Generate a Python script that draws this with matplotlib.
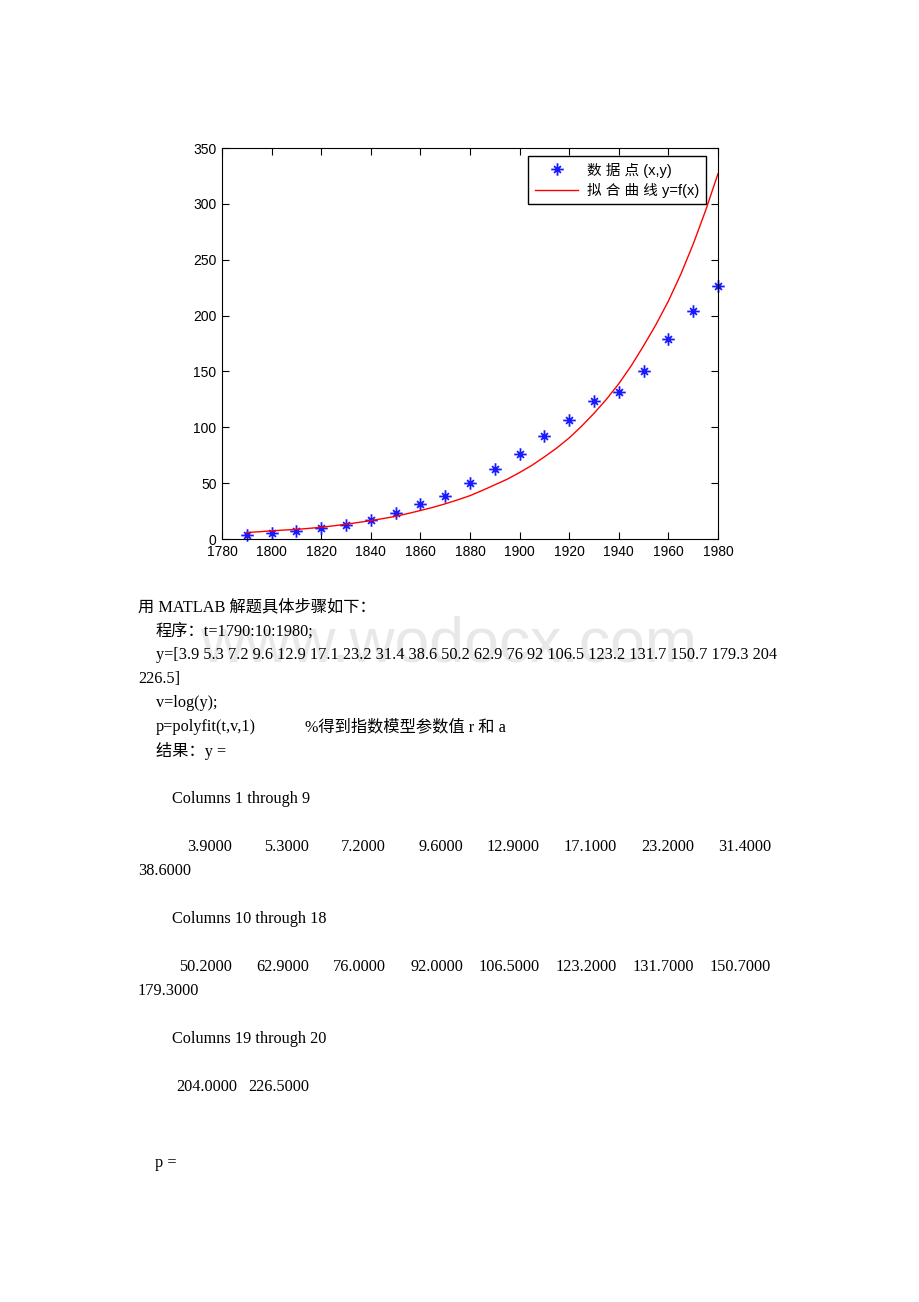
import numpy as np
import matplotlib
matplotlib.use('Agg')
import matplotlib.pyplot as plt
from matplotlib.path import Path

plt.rcParams['font.family'] = ['Liberation Sans', 'Noto Sans CJK SC']

# data points
years = [1790, 1800, 1810, 1820, 1830, 1840, 1850, 1860, 1870, 1880,
         1890, 1900, 1910, 1920, 1930, 1940, 1950, 1960, 1970, 1980]
pop = [3.9, 5.3, 7.2, 9.6, 12.9, 17.1, 23.2, 31.4, 38.6, 50.2,
       62.9, 76.0, 92.0, 106.5, 123.2, 131.7, 150.7, 179.3, 204.0, 226.5]

# fitted curve
fit_years = list(range(1790, 1985, 5))
fit_vals = [5.8, 6.5, 7.3, 8.0, 8.6, 9.5, 10.5, 11.8, 13.2, 14.8,
            16.5, 18.3, 20.3, 22.8, 25.5, 28.3, 31.5, 35.0, 38.8, 43.5,
            48.5, 53.5, 59.5, 66.0, 73.5, 81.5, 90.5, 101.0, 112.5, 125.0,
            139.0, 155.0, 173.0, 192.0, 213.0, 237.0, 264.0, 294.0, 327.0]

xticks = [1780, 1800, 1820, 1840, 1860, 1880, 1900, 1920, 1940, 1960, 1980]
yticks = [0, 50, 100, 150, 200, 250, 300, 350]

# matlab-like asterisk: long plus + short cross
d = 0.55
star = Path([(-1, 0), (1, 0), (0, -1), (0, 1), (-d, -d), (d, d), (-d, d), (d, -d)],
            [Path.MOVETO, Path.LINETO] * 4)

W, H = 920, 1302
fig = plt.figure(figsize=(W / 100, H / 100), dpi=100)
fig.patch.set_facecolor('white')

def px(x, y):
    return x / W, 1 - y / H

# watermark
fig.text(*px(449, 662), 'www.wodocx.com', fontsize=45, color='#e8e8e8',
         ha='center', va='baseline', family='Liberation Sans', zorder=0)

ax = fig.add_axes([222 / W, 1 - 539 / H, 496 / W, 391 / H])
ax.plot(years, pop, linestyle='none', marker=star, markersize=9,
        markeredgewidth=1.3, color='#1a1aff', label='数 据 点 (x,y)', clip_on=False)
ax.plot(fit_years, fit_vals, color='red', linewidth=1.0, label='拟 合 曲 线 y=f(x)')
ax.set_xlim(1780, 1980)
ax.set_ylim(0, 350)
ax.set_xticks(xticks)
ax.set_yticks(yticks)
ax.tick_params(direction='in', top=True, right=True, length=5, width=0.8,
               labelsize=10, pad=4)
for s in ax.spines.values():
    s.set_linewidth(0.8)

leg = ax.legend(loc='upper right', bbox_to_anchor=(1 - 12 / 496, 1 - 8 / 391),
                fontsize=10.5, fancybox=False, edgecolor='black', framealpha=1,
                handlelength=3.0, handletextpad=0.6, borderpad=0.45,
                labelspacing=0.35, borderaxespad=0)
leg.get_frame().set_linewidth(1.0)

# text below the chart
tf = ['Liberation Serif', 'Noto Sans CJK SC']
fs = 11.7
def line(x, y, s, ha='left'):
    fig.text(*px(x, y), s, fontsize=fs, family=tf, ha=ha, va='center')

line(138, 607, '用 MATLAB 解题具体步骤如下：')
line(156, 631, '程序：t=1790:10:1980;')
line(156, 655, 'y=[3.9 5.3 7.2 9.6 12.9 17.1 23.2 31.4 38.6 50.2 62.9 76 92 106.5 123.2 131.7 150.7 179.3 204')
line(138, 679, '226.5]')
line(156, 703, 'v=log(y);')
line(156, 727, 'p=polyfit(t,v,1)')
line(305, 727, '%得到指数模型参数值 r 和 a')
line(156, 751, '结果：y =')

line(172, 799, 'Columns 1 through 9')
for i in range(8):
    line(232 + 77 * i, 847, '%.4f' % pop[i], ha='right')
line(138, 871, '%.4f' % pop[8])

line(172, 919, 'Columns 10 through 18')
for i in range(8):
    line(232 + 77 * i, 967, '%.4f' % pop[9 + i], ha='right')
line(138, 991, '%.4f' % pop[17])

line(172, 1039, 'Columns 19 through 20')
line(237, 1087, '%.4f' % pop[18], ha='right')
line(309, 1087, '%.4f' % pop[19], ha='right')

line(155, 1163, 'p =')

fig.savefig('out.png', dpi=100, facecolor='white')
